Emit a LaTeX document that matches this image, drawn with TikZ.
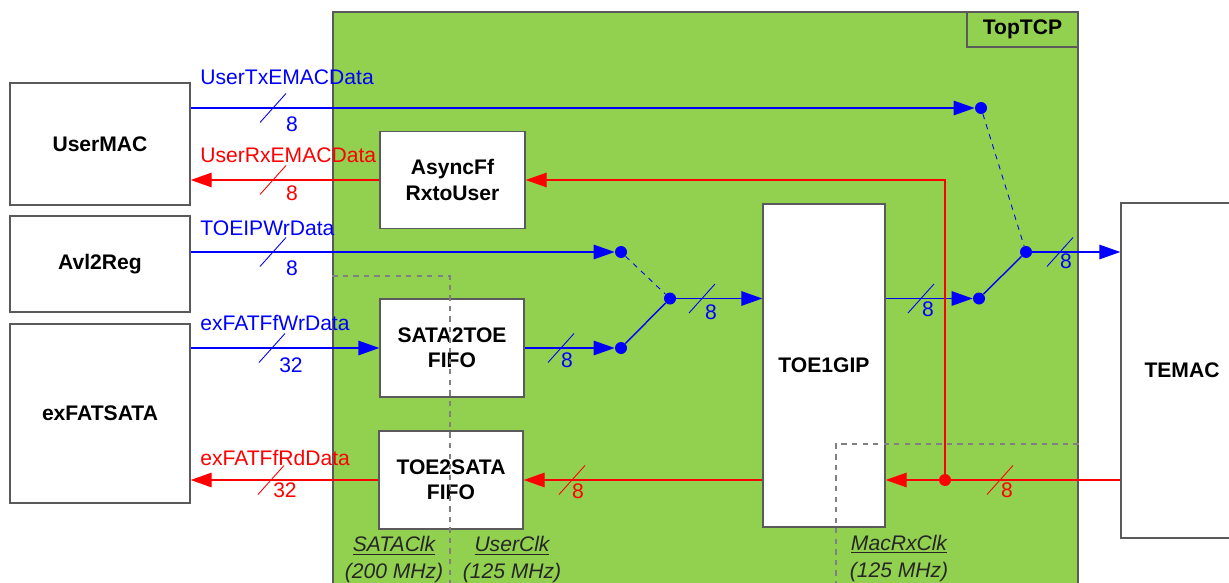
\documentclass[tikz,border=0pt]{standalone}
\usepackage{fontspec}
\setmainfont{Liberation Sans}
\usepackage{tikz}
\usetikzlibrary{arrows.meta,positioning,calc}
\usepackage{xcolor}
\definecolor{topgreen}{RGB}{146,208,80}
\definecolor{edgegray}{RGB}{90,90,90}

\begin{document}
\fontsize{12}{14.4}\selectfont
\begin{tikzpicture}[
    blk/.style={rectangle, draw=edgegray, line width=0.8pt, fill=white, font=\bfseries, align=center},
    frame/.style={rectangle, draw=edgegray, line width=0.8pt, fill=topgreen},
    dot/.style={circle, fill=#1, inner sep=0pt, minimum size=2.4mm},
    bus/.style={-{Triangle[length=4.2mm, width=2.9mm]}, line width=0.8pt, color=#1},
    wire/.style={line width=0.8pt, color=#1},
    sel/.style={dashed, line width=0.5pt, color=#1},
    slash/.style={line width=0.5pt, color=#1},
    sig/.style={anchor=west, inner sep=0pt, text=#1},
    num/.style={inner sep=0pt, text=#1},
    clkline/.style={dashed, line width=0.6pt, color=gray},
    clk/.style={font=\fontsize{12}{15.5}\selectfont\itshape, text=black!85, align=center, inner sep=0pt}
]
\useasboundingbox (0,0) rectangle (24.58,-11.66);

% TopTCP frame
\node[frame, minimum width=14.9cm, minimum height=11.8cm] (top) at (14.11,-6.14) {};
\node[frame, font=\bfseries, minimum width=2.22cm, minimum height=0.7cm] (toptag) at (20.45,-0.59) {TopTCP};

% outer blocks
\node[blk, minimum width=3.6cm, minimum height=2.44cm] (umac) at (2.0,-2.88) {UserMAC};
\node[blk, minimum width=3.6cm, minimum height=1.92cm] (avl) at (2.0,-5.28) {Avl2Reg};
\node[blk, minimum width=3.6cm, minimum height=3.58cm] (sata) at (2.0,-8.27) {exFATSATA};
\node[blk, minimum width=2.44cm, minimum height=6.7cm] (temac) at (23.64,-7.41) {TEMAC};

% inner blocks
\node[blk, minimum width=2.9cm, minimum height=1.94cm] (rxff) at (9.05,-3.6) {AsyncFf\\RxtoUser};
\node[blk, minimum width=2.88cm, minimum height=1.96cm] (txfifo) at (9.04,-6.96) {SATA2TOE\\FIFO};
\node[blk, minimum width=2.88cm, minimum height=1.96cm] (rxfifo) at (9.02,-9.6) {TOE2SATA\\FIFO};
\node[blk, minimum width=2.44cm, minimum height=6.46cm] (toe) at (16.48,-7.31) {TOE1GIP};

% switch points
\node[dot=blue] (txdot) at (19.62,-2.16) {};
\node[dot=blue] (swout) at (20.52,-5.04) {};
\node[dot=blue] (swin) at (19.58,-5.97) {};
\node[dot=blue] (ipdot) at (12.42,-5.04) {};
\node[dot=blue] (muxout) at (13.4,-5.97) {};
\node[dot=blue] (fifodot) at (12.42,-6.96) {};
\node[dot=red] (rxdot) at (18.9,-9.6) {};

% transmit path
\draw[bus=blue] (umac.east |- txdot) -- (txdot);
\draw[bus=blue] (avl.east |- ipdot) -- (ipdot);
\draw[bus=blue] (sata.east |- txfifo) -- (txfifo.west);
\draw[bus=blue] (txfifo.east) -- (fifodot);
\draw[wire=blue] (fifodot) -- (muxout);
\draw[sel=blue] (ipdot) -- (muxout);
\draw[bus=blue] (muxout) -- (toe.west |- muxout);
\draw[bus=blue] (toe.east |- swin) -- (swin);
\draw[wire=blue] (swin) -- (swout);
\draw[sel=blue] (txdot) -- (swout);
\draw[bus=blue] (swout) -- (temac.west |- swout);

% receive path
\draw[bus=red] (rxff.west) -- (umac.east |- rxff);
\draw[bus=red] (temac.west |- rxdot) -- (toe.east |- rxdot);
\draw[bus=red] (rxdot) |- (rxff.east);
\draw[bus=red] (toe.west |- rxfifo) -- (rxfifo.east);
\draw[bus=red] (rxfifo.west) -- (sata.east |- rxfifo);

% signal names
\node[sig=blue] (txlbl) at (4.0,-1.54) {UserTxEMACData};
\node[sig=red] (rxlbl) at (4.0,-3.1) {UserRxEMACData};
\node[sig=blue] (iplbl) at (4.0,-4.56) {TOEIPWrData};
\node[sig=blue] (wrlbl) at (4.0,-6.46) {exFATFfWrData};
\node[sig=red] (rdlbl) at (4.0,-9.16) {exFATFfRdData};

% bus widths
\draw[slash=blue] (5.2,-2.45) -- ++(0.52,0.58);
\node[num=blue] (txw) at (5.84,-2.48) {8};
\draw[slash=red] (5.2,-3.89) -- ++(0.52,0.58);
\node[num=red] (rxw) at (5.84,-3.86) {8};
\draw[slash=blue] (5.2,-5.33) -- ++(0.52,0.58);
\node[num=blue] (ipw) at (5.84,-5.36) {8};
\draw[slash=blue] (5.18,-7.25) -- ++(0.52,0.58);
\node[num=blue] (wrw) at (5.82,-7.3) {32};
\draw[slash=red] (5.16,-9.89) -- ++(0.52,0.58);
\node[num=red] (rdw) at (5.7,-9.8) {32};
\draw[slash=blue] (10.96,-7.25) -- ++(0.52,0.58);
\node[num=blue] (fifow) at (11.34,-7.2) {8};
\draw[slash=red] (11.18,-9.89) -- ++(0.52,0.58);
\node[num=red] (toerw) at (11.56,-9.82) {8};
\draw[slash=blue] (13.78,-6.26) -- ++(0.52,0.58);
\node[num=blue] (muxw) at (14.22,-6.24) {8};
\draw[slash=blue] (18.16,-6.26) -- ++(0.52,0.58);
\node[num=blue] (toetw) at (18.56,-6.18) {8};
\draw[slash=blue] (20.94,-5.33) -- ++(0.52,0.58);
\node[num=blue] (macw) at (21.32,-5.22) {8};
\draw[slash=red] (19.74,-9.89) -- ++(0.52,0.58);
\node[num=red] (macrw) at (20.14,-9.8) {8};

% clock domains
\draw[clkline] (top.west |- 0,-5.52) -- (9.0,-5.52) -- (9.0,-11.8);
\draw[clkline] (top.east |- 0,-8.88) -- (16.72,-8.88) -- (16.72,-11.8);
\node[clk] (sataclk) at (7.88,-11.23) {\underline{SATAClk}\\\underline{(200 MHz)}};
\node[clk] (userclk) at (10.24,-11.23) {\underline{UserClk}\\\underline{(125 MHz)}};
\node[clk] (macclk) at (17.98,-11.2) {\underline{MacRxClk}\\\underline{(125 MHz)}};

\end{tikzpicture}
\end{document}
